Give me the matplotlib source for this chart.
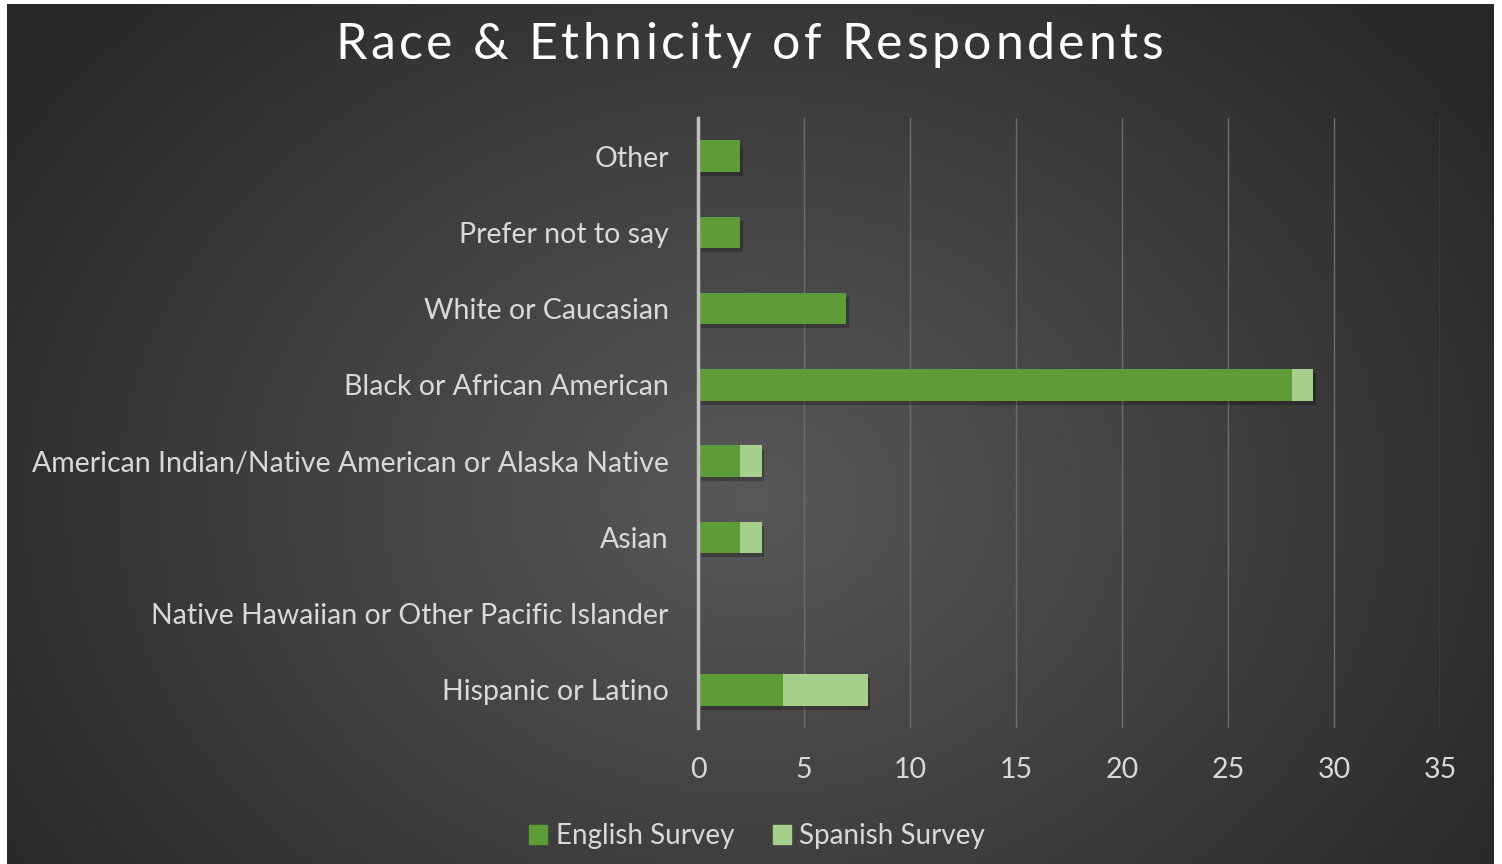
import numpy as np
import matplotlib
matplotlib.use("Agg")
import matplotlib.pyplot as plt
from matplotlib import patheffects as pe
from matplotlib.patches import Patch

categories = ["Hispanic or Latino",
              "Native Hawaiian or Other Pacific Islander",
              "Asian",
              "American Indian/Native American or Alaska Native",
              "Black or African American",
              "White or Caucasian",
              "Prefer not to say",
              "Other"]
english = [4, 0, 2, 2, 28, 7, 2, 2]
spanish = [4, 0, 1, 1, 1, 0, 0, 0]
xticks = [0, 5, 10, 15, 20, 25, 30, 35]
title = "Race & Ethnicity of Respondents"

plt.rcParams['font.family'] = ['Lato', 'DejaVu Sans']

W, H = 1502, 864
fig = plt.figure(figsize=(W / 100, H / 100), dpi=100, facecolor="white")

# background radial gradient
bg = fig.add_axes([7 / W, 0, (1494 - 7) / W, (H - 4) / H])
bg.set_axis_off()
yy, xx = np.mgrid[0:400, 0:700]
cx, cy = 350, 230
r = np.sqrt(((xx - cx) / 420) ** 2 + ((yy - cy) / 330) ** 2)
r = np.clip(r, 0, 1)
c0 = np.array([0x58, 0x58, 0x58]) / 255
c1 = np.array([0x28, 0x28, 0x28]) / 255
img = c0[None, None, :] * (1 - r[..., None]) + c1[None, None, :] * r[..., None]
bg.imshow(img, aspect="auto", extent=[0, 1, 0, 1], origin="upper")
bg.set_xlim(0, 1); bg.set_ylim(0, 1)

ax = fig.add_axes([698 / W, 1 - 728 / H, (1440 - 698) / W, (728 - 118) / H])
ax.set_facecolor("none")
y = np.arange(len(categories))
shadow = [pe.SimplePatchShadow(offset=(2, -3), shadow_rgbFace="black", alpha=0.25), pe.Normal()]
ax.barh(y, english, height=0.41, color="#5e9c38", zorder=3, path_effects=shadow)
ax.barh(y, spanish, left=english, height=0.41, color="#a6cf8c", zorder=3, path_effects=shadow)
ax.set_xlim(0, 35)
ax.set_ylim(-0.5, len(categories) - 0.5)
ax.set_xticks(xticks)
ax.set_xticklabels([str(t) for t in xticks])
ax.set_yticks(y)
ax.set_yticklabels(categories)
ax.tick_params(axis="both", length=0, colors="#d9d9d9", labelsize=20.5)
ax.tick_params(axis="x", pad=21)
ax.tick_params(axis="y", pad=21)
for s in ["top", "right", "bottom"]:
    ax.spines[s].set_visible(False)
ax.spines["left"].set_color("#bfbfbf")
ax.spines["left"].set_linewidth(2.5)
ax.spines["left"].set_zorder(4)
ax.grid(axis="x", color="#6e6e6e", linewidth=1.0, zorder=0)
ax.set_axisbelow(True)

# title with letter spacing
renderer = fig.canvas.get_renderer()
target_w = 1163 - 335
tys = 1 - 45 / H
pieces = []
widths = []
for ch in title:
    t = fig.text(0, tys, ch, ha="left", va="center", color="white", fontsize=36)
    bb = t.get_window_extent(renderer)
    pieces.append(t)
    widths.append(bb.width if ch != " " else None)
sp_t = fig.text(0, 0, "a a", fontsize=36)
aa_t = fig.text(0, 0, "aa", fontsize=36)
sp_w = sp_t.get_window_extent(renderer).width - aa_t.get_window_extent(renderer).width
sp_t.remove(); aa_t.remove()
widths = [w if w is not None else sp_w for w in widths]
natural = sum(widths)
gap = (target_w - natural) / (len(title) - 1)
xpos = 335.0
for t, w in zip(pieces, widths):
    t.set_x(xpos / W)
    xpos += w + gap

handles = [Patch(color="#5e9c38", label="English Survey"),
           Patch(color="#a6cf8c", label="Spanish Survey")]
fig.legend(handles=handles, loc="center", bbox_to_anchor=(0.504, 1 - 836 / H), ncol=2,
           frameon=False, fontsize=20, labelcolor="#d9d9d9", handlelength=0.65,
           handleheight=0.65, handletextpad=0.3, columnspacing=1.4)

fig.savefig("out.png", dpi=100, facecolor="white")
